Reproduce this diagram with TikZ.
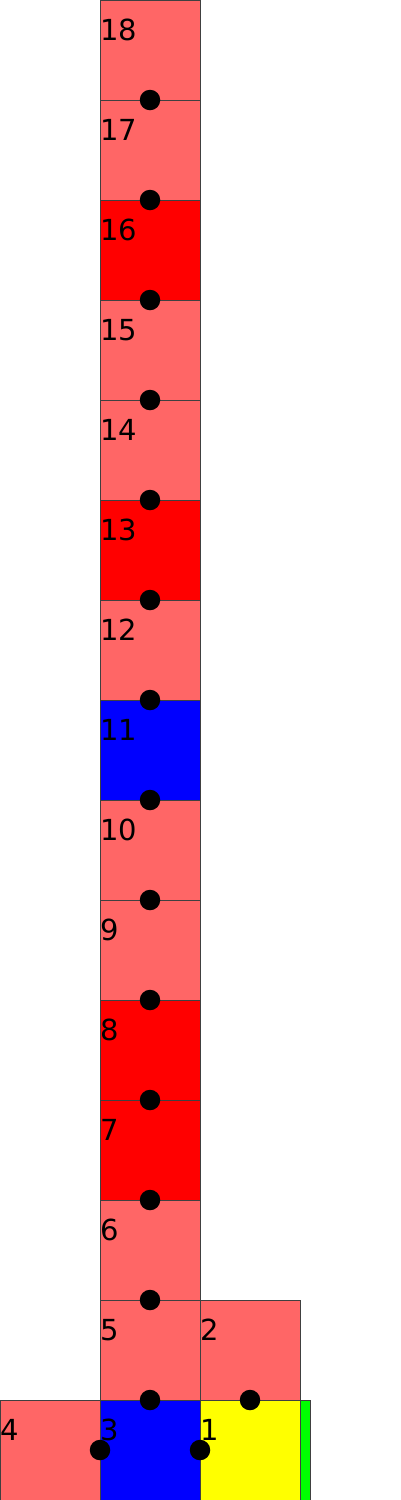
\documentclass[tikz,border=0pt]{standalone}
\usepackage{fontspec}
\setmainfont{DejaVu Sans}
\definecolor{lred}{HTML}{FF6666}
\definecolor{fred}{HTML}{FF0000}
\definecolor{fblue}{HTML}{0000FF}
\definecolor{fyellow}{HTML}{FFFF00}
\definecolor{fgreen}{HTML}{00FF00}
\definecolor{edge}{HTML}{404040}
\tikzset{
  sq/.style={draw=edge, line width=0.8pt, minimum width=100pt, minimum height=100pt, inner sep=0pt, outer sep=0pt, anchor=north west},
  lab/.style={anchor=base west, inner sep=0pt, outer sep=0pt, font=\fontsize{29}{29}\selectfont},
  dot/.style={circle, fill=black, minimum size=20.5pt, inner sep=0pt, outer sep=0pt}
}
\begin{document}
\begin{tikzpicture}[x=1pt,y=-1pt]
\useasboundingbox (0,0) rectangle (400,1500);
% vertical column 18..5
\foreach \k/\c in {18/lred,17/lred,16/fred,15/lred,14/lred,13/fred,12/lred,11/fblue,10/lred,9/lred,8/fred,7/fred,6/lred,5/lred}{
  \pgfmathsetmacro{\top}{(18-\k)*100}
  \node[sq, fill=\c] (s\k) at (100,\top) {};
  \node[lab] (l\k) at (100,\top+40) {\k};
}
\node[sq, fill=lred] (s2) at (200,1300) {};
\node[lab] (l2) at (200,1340) {2};
\node[sq, fill=lred] (s4) at (0,1400) {};
\node[lab] (l4) at (0,1440) {4};
\node[sq, fill=fblue] (s3) at (100,1400) {};
\node[lab] (l3) at (100,1440) {3};
\node[sq, fill=fyellow] (s1) at (200,1400) {};
\node[lab] (l1) at (200,1440) {1};
\node[sq, fill=fgreen, minimum width=10pt] (g) at (300,1400) {};
% dots
\foreach \j in {1,...,14}{
  \node[dot] (d\j) at (150,\j*100) {};
}
\node[dot] (d15) at (250,1400) {};
\node[dot] (d16) at (100,1450) {};
\node[dot] (d17) at (200,1450) {};
\end{tikzpicture}
\end{document}
